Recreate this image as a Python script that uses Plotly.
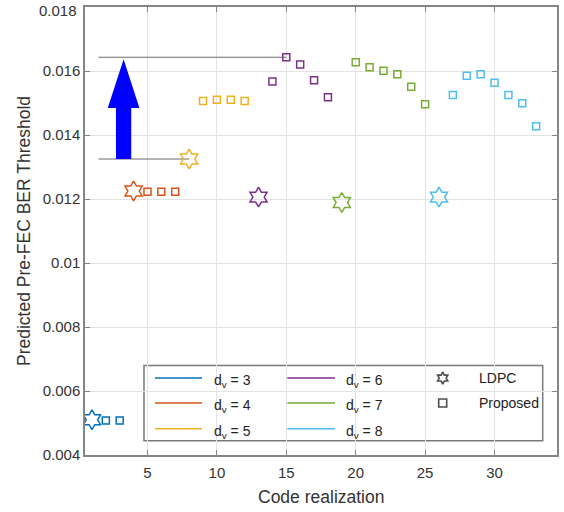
import plotly.graph_objects as go

# ---------------- data ----------------
dv_labels = ["3", "4", "5", "6", "7", "8"]
colors = ["#0072BD", "#D95319", "#EDB120", "#7E2F8E", "#77AC30", "#4DBEEE"]

ldpc_x = [1, 4, 8, 13, 19, 26]
ldpc_y = [0.00510, 0.01225, 0.01325, 0.01206, 0.01189, 0.01206]

prop_x = [
    [2, 3],
    [5, 6, 7],
    [9, 10, 11, 12],
    [14, 15, 16, 17, 18],
    [20, 21, 22, 23, 24, 25],
    [27, 28, 29, 30, 31, 32, 33],
]
prop_y = [
    [0.00508, 0.00508],
    [0.01223, 0.01223, 0.01223],
    [0.01506, 0.01510, 0.01510, 0.01506],
    [0.01567, 0.01643, 0.01620, 0.01571, 0.01518],
    [0.01627, 0.01612, 0.01601, 0.01590, 0.01551, 0.01496],
    [0.01525, 0.01585, 0.01590, 0.01563, 0.01525, 0.01499, 0.01427],
]

x_ticks = [5, 10, 15, 20, 25, 30]
y_ticks = [0.004, 0.006, 0.008, 0.010, 0.012, 0.014, 0.016, 0.018]
y_ticktext = ["0.004", "0.006", "0.008", "0.01", "0.012", "0.014", "0.016", "0.018"]

FONT = "Liberation Sans, Arial, sans-serif"
AXC = "#858585"
TXT = "#333333"

fig = go.Figure()

for i in range(6):
    fig.add_trace(go.Scatter(
        x=prop_x[i], y=prop_y[i], mode="markers", showlegend=False,
        marker=dict(symbol="square-open", size=7, color=colors[i],
                    line=dict(width=1.5, color=colors[i])),
    ))
    fig.add_trace(go.Scatter(
        x=[ldpc_x[i]], y=[ldpc_y[i]], mode="markers", showlegend=False,
        marker=dict(symbol="hexagram-open", size=15, color=colors[i],
                    line=dict(width=1.5, color=colors[i])),
    ))

# ---------------- annotation lines & arrow ----------------
best_i = max(range(6), key=lambda k: max(prop_y[k]))
best_y = max(prop_y[best_i])
best_x = prop_x[best_i][prop_y[best_i].index(best_y)]
ref_i = 2
ref_y = ldpc_y[ref_i]
ref_x = ldpc_x[ref_i]
line_start = 1.47

shapes = []
for (xe, yv) in [(best_x, best_y), (ref_x, ref_y)]:
    shapes.append(dict(type="line", xref="x", yref="y", x0=line_start, x1=xe,
                       y0=yv, y1=yv, line=dict(color="#6a6a6a", width=1), layer="between"))

ac, sw, hw = 3.28, 0.55, 1.14
tip = best_y - 0.00006
base = tip - 0.00153
bot = ref_y
path = (f"M {ac-sw},{bot} L {ac+sw},{bot} L {ac+sw},{base} L {ac+hw},{base} "
        f"L {ac},{tip} L {ac-hw},{base} L {ac-sw},{base} Z")
shapes.append(dict(type="path", xref="x", yref="y", path=path,
                   fillcolor="#0000FF", line=dict(width=0), layer="above"))

# ---------------- layout geometry (page pixels) ----------------
W, H = 564, 512
L, R, T, B = 85, 557, 7, 455.3
PW, PH = R - L, B - T
def px(xp): return (xp - L) / PW
def py(yp): return (B - yp) / PH

shapes.append(dict(type="rect", xref="paper", yref="paper",
                   x0=px(144), x1=px(542.7), y0=py(441), y1=py(365.7),
                   fillcolor="white", line=dict(color="#7a7a7a", width=1.5), layer="between"))

rows = [378.3, 403.3, 429]
col_line = [(155, 202), (287.3, 335)]
col_text = [211.7, 344]
annotations = []
for i in range(6):
    c, r = i // 3, i % 3
    shapes.append(dict(type="line", xref="paper", yref="paper",
                       x0=px(col_line[c][0]), x1=px(col_line[c][1]),
                       y0=py(rows[r]), y1=py(rows[r]),
                       line=dict(color=colors[i], width=1.5), layer="above"))
    annotations.append(dict(xref="paper", yref="paper", x=px(col_text[c]), y=py(rows[r]),
                            text=f"d<sub>v</sub> = {dv_labels[i]}", showarrow=False,
                            xanchor="left", yanchor="middle", yshift=-3,
                            font=dict(family=FONT, size=14, color="#222")))
for r, name in enumerate(["LDPC", "Proposed"]):
    annotations.append(dict(xref="paper", yref="paper", x=px(477), y=py(rows[r]),
                            text=name, showarrow=False, xanchor="left", yanchor="middle",
                            font=dict(family=FONT, size=14, color="#222")))

fig.add_trace(go.Scatter(
    x=[px(442.7), px(442.7)], y=[py(rows[0]), py(rows[1])], xaxis="x2", yaxis="y2",
    mode="markers", showlegend=False, hoverinfo="skip",
    marker=dict(symbol=["hexagram-open", "square-open"], size=[9, 8], color="black",
                line=dict(width=1.6, color="black")),
))

annotations.append(dict(xref="paper", yref="paper", x=0.5, y=py(497), yshift=0,
                        text="Code realization", showarrow=False, xanchor="center", yanchor="middle",
                        font=dict(family=FONT, size=17.5, color=TXT)))

# top y tick label is nudged down inside the page (as in the reference)
shown_ticktext = y_ticktext[:-1] + [""]
annotations.append(dict(xref="paper", yref="paper", x=0, xshift=-6, y=py(10.5),
                        text=y_ticktext[-1], showarrow=False, xanchor="right", yanchor="middle",
                        font=dict(family=FONT, size=15, color=TXT)))

fig.update_layout(
    width=W, height=H,
    margin=dict(l=L, r=W - R, t=T, b=H - B, autoexpand=False),
    paper_bgcolor="white", plot_bgcolor="white",
    showlegend=False,
    shapes=shapes, annotations=annotations,
    font=dict(family=FONT, color=TXT),
    xaxis=dict(range=[0.5, 34.5], tickvals=x_ticks, ticks="inside", ticklen=5,
               tickcolor=AXC, showline=True, linecolor=AXC, linewidth=1.5, mirror="ticks",
               showgrid=True, gridcolor="#e3e3e3", gridwidth=1, zeroline=False, automargin=False,
               ticklabelstandoff=3, ticklabeloverflow="allow",
               tickfont=dict(family=FONT, size=15, color=TXT)),
    yaxis=dict(range=[0.0039999, 0.0180001], tickvals=y_ticks, ticktext=shown_ticktext, ticks="inside",
               ticklen=5, tickcolor=AXC, showline=True, linecolor=AXC, linewidth=1.5,
               mirror="ticks", showgrid=True, gridcolor="#e3e3e3", gridwidth=1, zeroline=False,
               automargin=False, ticklabeloverflow="allow",
               tickfont=dict(family=FONT, size=15, color=TXT),
               title=dict(text="Predicted Pre-FEC BER Threshold", standoff=8,
                          font=dict(family=FONT, size=17.5, color=TXT))),
    xaxis2=dict(overlaying="x", range=[0, 1], visible=False, anchor="y2"),
    yaxis2=dict(overlaying="y", range=[0, 1], visible=False, anchor="x2"),
)

fig.write_html("out.html", config={"displayModeBar": False},
               post_script="document.body.style.margin='0';")
